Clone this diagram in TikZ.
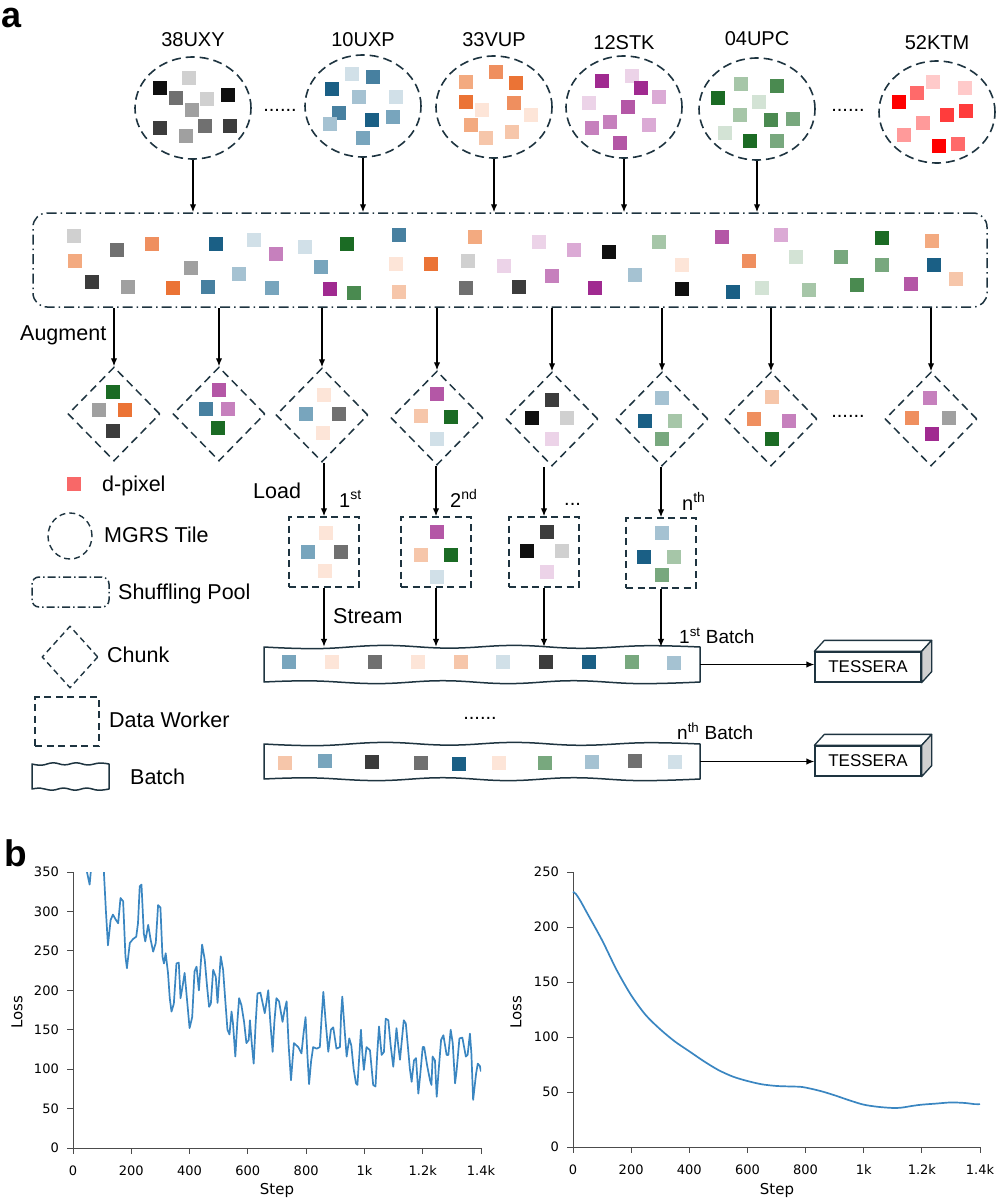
\documentclass[tikz,border=0pt]{standalone}
\usepackage{fontspec}
\setmainfont{Liberation Sans}
\newfontfamily\plotfont{DejaVu Sans}
\usetikzlibrary{shapes.geometric,arrows.meta}
\definecolor{lnc}{HTML}{1E3440}
\definecolor{ck1}{HTML}{0F0F0F}\definecolor{ck2}{HTML}{3C3C3C}\definecolor{ck3}{HTML}{707070}\definecolor{ck4}{HTML}{A0A0A0}\definecolor{ck5}{HTML}{D0D0D0}
\definecolor{cb1}{HTML}{1A5F85}\definecolor{cb2}{HTML}{4780A0}\definecolor{cb3}{HTML}{78A5BD}\definecolor{cb4}{HTML}{A5C2D2}\definecolor{cb5}{HTML}{D1E0E8}
\definecolor{co1}{HTML}{EB7335}\definecolor{co2}{HTML}{EF8F5F}\definecolor{co3}{HTML}{F3AA80}\definecolor{co4}{HTML}{F6C6AA}\definecolor{co5}{HTML}{FDE5D8}
\definecolor{cp1}{HTML}{A02A90}\definecolor{cp2}{HTML}{B457A6}\definecolor{cp3}{HTML}{C680BD}\definecolor{cp4}{HTML}{DBAAD5}\definecolor{cp5}{HTML}{ECD3E8}
\definecolor{cg1}{HTML}{1B6B24}\definecolor{cg2}{HTML}{4A8A50}\definecolor{cg3}{HTML}{78A87E}\definecolor{cg4}{HTML}{A6C6A8}\definecolor{cg5}{HTML}{D3E3D5}
\definecolor{cr1}{HTML}{FF0000}\definecolor{cr2}{HTML}{FF3C3C}\definecolor{cr3}{HTML}{FF6A6A}\definecolor{cr4}{HTML}{FF9A9A}\definecolor{cr5}{HTML}{FFCACA}
\definecolor{cleg}{HTML}{F86868}
\definecolor{pltc}{HTML}{3A86C1}
% wavy outline round a named node: node, half width, half height, amplitude
\newcommand{\wavyoutline}[4]{%
  \draw[lnc, line width=1.5pt, line join=round, shift={(#1.center)}]
    plot[smooth, tension=0.7] coordinates {(-#2,-#3) (-0.75*#2,-#3+#4) (-0.45*#2,-#3-#4) (-0.15*#2,-#3+0.7*#4) (0.15*#2,-#3-#4) (0.45*#2,-#3+0.8*#4) (0.75*#2,-#3-0.8*#4) (#2,-#3)}
    -- plot[smooth, tension=0.7] coordinates {(#2,#3) (0.72*#2,#3+#4) (0.42*#2,#3-0.8*#4) (0.12*#2,#3+#4) (-0.18*#2,#3-0.8*#4) (-0.48*#2,#3+#4) (-0.78*#2,#3-0.7*#4) (-#2,#3)}
    -- cycle;}
\begin{document}
\begin{tikzpicture}[x=1pt,y=-1pt,
  tile/.style={ellipse, draw=lnc, line width=1.6pt, dash pattern=on 9pt off 5pt, minimum width=116pt, minimum height=102pt, inner sep=0pt},
  chunk/.style={diamond, aspect=1, draw=lnc, line width=1.5pt, dash pattern=on 8pt off 5pt, minimum width=92pt, minimum height=94pt, inner sep=0pt},
  worker/.style={rectangle, draw=lnc, line width=1.5pt, dash pattern=on 7pt off 4.5pt, minimum width=70pt, minimum height=70pt, inner sep=0pt},
  batch/.style={rectangle, minimum width=436pt, minimum height=35pt, inner sep=0pt},
  pool/.style={rectangle, rounded corners=14pt, draw=lnc, line width=1.5pt, dash pattern=on 10pt off 4pt on 1.5pt off 4pt, minimum width=954pt, minimum height=94pt, inner sep=0pt},
  arr/.style={-{Latex[length=8pt,width=6.5pt]}, line width=1.3pt},
  tess/.style={rectangle, draw=lnc, line width=1.3pt, fill=white, minimum width=106pt, minimum height=30pt, inner sep=0pt, font=\fontsize{17}{20}\selectfont},
  lbl/.style={font=\fontsize{20}{24}\selectfont, inner sep=0pt},
  leg/.style={font=\fontsize{21.5}{26}\selectfont, inner sep=0pt, anchor=base west},
  tick/.style={font=\plotfont\fontsize{13}{15}\selectfont, inner sep=0pt},
  axl/.style={font=\plotfont\fontsize{15}{18}\selectfont, inner sep=0pt},
  axc/.style={draw=black!70, line width=1pt}
]
\useasboundingbox (0,0) rectangle (996,1199);

% panel letters
\node[anchor=base west, inner sep=0pt, font=\fontsize{36}{38}\selectfont\bfseries] (pa) at (1,28) {a};
\node[anchor=base west, inner sep=0pt, font=\fontsize{37}{38}\selectfont\bfseries] (pb) at (4,866) {b};

% tiles
\node[tile] (t1) at (193,108) {};
\node[tile] (t2) at (363,106) {};
\node[tile] (t3) at (494,107) {};
\node[tile] (t4) at (624,107) {};
\node[tile] (t5) at (757,109) {};
\node[tile] (t6) at (937,112) {};
\node[lbl, anchor=base] (l1) at (193,47) {38UXY};
\node[lbl, anchor=base] (l2) at (363,47) {10UXP};
\node[lbl, anchor=base] (l3) at (494,47) {33VUP};
\node[lbl, anchor=base] (l4) at (624,49) {12STK};
\node[lbl, anchor=base] (l5) at (757,46) {04UPC};
\node[lbl, anchor=base] (l6) at (937,50) {52KTM};
\node[lbl, anchor=base] (dots1) at (280,111) {......};
\node[lbl, anchor=base] (dots2) at (848,111) {......};

% pool
\node[pool] (pool) at (510,260) {};

% chunks
\node[chunk] (d1) at (114,414) {};
\node[chunk] (d2) at (219,414) {};
\node[chunk] (d3) at (322,415) {};
\node[chunk] (d4) at (437,418) {};
\node[chunk] (d5) at (552,419) {};
\node[chunk] (d6) at (662,419) {};
\node[chunk] (d7) at (771,419) {};
\node[chunk] (d8) at (931,419) {};
\node[lbl, anchor=base] (dots3) at (848,417) {......};
\node[leg] (aug) at (20,340) {Augment};

% workers
\node[worker] (w1) at (324,552) {};
\node[worker] (w2) at (436,552) {};
\node[worker] (w3) at (544,552) {};
\node[worker] (w4) at (661,553) {};
\node[leg] (load) at (253,498) {Load};
\node[lbl, anchor=base west] (n1) at (339,507) {1\textsuperscript{st}};
\node[lbl, anchor=base west] (n2) at (450,507) {2\textsuperscript{nd}};
\node[lbl, anchor=base west] (n3) at (564,505) {...};
\node[lbl, anchor=base west] (n4) at (682,510) {n\textsuperscript{th}};
\node[leg] (stream) at (333,623) {Stream};

% batches
\node[batch] (b1) at (482,664.5) {};
\node[batch] (b2) at (482,761.5) {};
\wavyoutline{b1}{218}{17.5}{1.6}
\wavyoutline{b2}{218}{17.5}{1.6}
\node[lbl, anchor=base west, font=\fontsize{19}{22}\selectfont] (bl1) at (679,643) {1\textsuperscript{st} Batch};
\node[lbl, anchor=base west, font=\fontsize{19}{22}\selectfont] (bl2) at (677,739) {n\textsuperscript{th} Batch};
\node[lbl, anchor=base] (dots4) at (480,719) {......};

% TESSERA boxes
\node[tess] (tes1) at (868,667) {TESSERA};
\node[tess] (tes2) at (868,761) {TESSERA};
\foreach \t in {tes1,tes2}{
  \draw[draw=lnc, line width=1.3pt, fill=white, line join=round] (\t.north west) -- ++(10,-11) -- ([shift={(10,-11)}]\t.north east) -- (\t.north east) -- cycle;
  \draw[draw=lnc, line width=1.3pt, fill=ck5, line join=round] (\t.north east) -- ++(10,-11) -- ([shift={(10,-11)}]\t.south east) -- (\t.south east) -- cycle;
}

% connectors
\foreach \t in {t1,t2,t3,t4,t5}
  \draw[arr] (\t.south) -- (\t.south |- pool.north);
\foreach \d in {d1,d2,d3,d4,d5,d6,d7,d8}
  \draw[arr] (pool.south -| \d.north) -- (\d.north);
\draw[arr] (w1.north |- d3.south) -- (w1.north);
\draw[arr] (w2.north |- d4.south) -- (w2.north);
\draw[arr] (w3.north |- d5.south) -- (w3.north);
\draw[arr] (w4.north |- d6.south) -- (w4.north);
\foreach \w in {w1,w2,w3,w4}
  \draw[arr] (\w.south) -- (\w.south |- b1.north);
\draw[arr] (b1.east) -- (tes1.west |- b1.east);
\draw[arr] (b2.east) -- (tes2.west |- b2.east);

% legend
\node[tile, minimum width=44pt, minimum height=46pt, line width=1.4pt, dash pattern=on 6pt off 4pt] (lgtile) at (70,536) {};
\node[pool, minimum width=77pt, minimum height=30pt, rounded corners=7pt, dash pattern=on 8pt off 3pt on 1.5pt off 3pt] (lgpool) at (70.5,592) {};
\node[chunk, minimum width=56pt, minimum height=62pt, dash pattern=on 6pt off 4pt, line width=1.4pt] (lgchunk) at (70,657) {};
\node[worker, minimum width=64pt, minimum height=49pt] (lgwork) at (67,721.5) {};
\node[batch, minimum width=77pt, minimum height=25pt] (lgbatch) at (70.5,776.5) {};
\wavyoutline{lgbatch}{38.5}{12.5}{1.2}
\node[leg] (tx1) at (102,491) {d-pixel};
\node[leg] (tx2) at (104,542) {MGRS Tile};
\node[leg] (tx3) at (118,599) {Shuffling Pool};
\node[leg] (tx4) at (107,662) {Chunk};
\node[leg] (tx5) at (109,727) {Data Worker};
\node[leg] (tx6) at (130,784) {Batch};

% d-pixels
\foreach \x/\y/\c in {
 74/484/cleg,
 160/88/ck1, 189/78/ck5, 176/98/ck3, 207/99/ck5, 192/110/ck4, 228/95/ck1, 160/128/ck2, 186/136/ck4, 205/126/ck3, 230/126/ck2,
 352/74/cb5, 373/77/cb2, 332/89/cb1, 359/97/cb4, 396/97/cb5, 339/113/cb2, 330/124/cb4, 372/120/cb1, 393/117/cb3, 363/138/cb3,
 466/82/co3, 496/72/co2, 466/102/co1, 482/110/co5, 471/125/co3, 486/138/co4, 516/83/co1, 514/103/co2, 531/115/co5, 512/132/co4,
 602/81/cp1, 632/76/cp5, 641/88/cp1, 659/97/cp4, 589/103/cp5, 628/107/cp2, 592/128/cp3, 610/122/cp3, 649/125/cp4, 620/143/cp2,
 718/98/cg1, 741/84/cg4, 777/86/cg2, 759/102/cg5, 740/115/cg4, 771/120/cg2, 793/119/cg3, 725/133/cg5, 750/141/cg1, 777/141/cg3,
 899/102/cr1, 917/93/cr3, 933/82/cr5, 965/88/cr5, 947/115/cr2, 966/111/cr2, 923/123/cr4, 904/135/cr4, 939/146/cr1, 958/144/cr3,
 74/236/ck5, 117/250/ck3, 152/244/co2, 75/261/co3, 92/282/ck2, 128/287/ck4, 173/288/co1, 191/268/ck4, 216/244/cb1, 208/287/cb2,
 254/240/cb5, 239/274/cb4, 276/254/cp3, 305/247/cb5, 321/267/cb3, 272/288/cb3, 347/244/cg1, 330/289/cp1, 354/293/cg2, 399/235/cb2,
 396/264/co5, 431/264/co1, 399/292/co4, 475/237/co3, 468/261/ck5, 466/288/ck3, 539/242/cp5, 504/266/cp5, 574/250/cp4, 609/252/ck1,
 519/287/ck2, 552/276/cp3, 595/288/cp1, 659/242/cg4, 635/275/cb4, 682/265/co5, 682/289/ck1, 722/237/cp2, 749/261/co2, 733/292/cb1,
 781/235/cp4, 796/257/cg5, 762/288/cg5, 809/290/cg4, 841/257/cg3, 857/285/cg2, 882/238/cg1, 882/265/cg3, 932/241/co3, 934/265/cb1,
 911/284/cp2, 956/279/co4,
 113/392/cg1, 99/410/ck4, 125/410/co1, 113/431/ck2,
 219/390/cp2, 206/409/cb2, 228/409/cp3, 218/428/cg1,
 324/395/co5, 306/414/cb3, 339/414/ck3, 323/433/co5,
 437/394/cp2, 421/416/co4, 451/417/cg1, 437/439/cb5,
 552/400/ck2, 532/418/ck1, 567/418/ck5, 552/439/cp5,
 662/398/cb4, 645/421/cb1, 675/421/cg4, 662/439/cg3,
 772/397/co4, 754/419/co2, 789/421/cp3, 772/439/cg1,
 930/398/cp3, 912/418/co2, 949/418/ck4, 932/434/cp1,
 326/533/co5, 308/552/cb3, 341/552/ck3, 325/571/co5,
 437/532/cp2, 421/555/co4, 451/555/cg1, 437/577/cb5,
 547/532/ck2, 527/551/ck1, 562/551/ck5, 547/572/cp5,
 662/533/cb4, 644/557/cb1, 674/557/cg4, 662/575/cg3,
 289/662/cb3, 332/662/co5, 375/662/ck3, 418/662/co5, 461/662/co4, 503/662/cb5, 546/662/ck2, 589/662/cb1, 632/662/cg3, 674/663/cb4,
 285/763/co4, 325/761/cb3, 372/762/ck2, 421/763/ck3, 459/764/cb1, 499/763/co5, 545/763/cg3, 592/762/cb4, 635/761/ck3, 675/762/cb5}
 \fill[\c] (\x-7,\y-7) rectangle ++(14,14);

% ---------- left plot ----------
\node[axl, rotate=90] (yl1) at (17,1012) {Loss};
\node[axl, anchor=base] (xl1) at (277,1194) {Step};
\begin{scope}[shift={(73pt,-1148pt)}, x=0.29143pt, y=0.78857pt]
  \draw[axc] (0,350) -- (0,0) -- (1400,0);
  \foreach \v in {0,50,...,350}{
    \draw[axc] (0,\v) -- ++(-6pt,0pt);
    \node[tick, anchor=east, xshift=-14pt] at (0,\v) {\v};
  }
  \foreach \s/\t in {0/0,200/200,400/400,600/600,800/800,1000/1k,1200/1.2k,1400/1.4k}{
    \draw[axc] (\s,0) -- ++(0pt,-6pt);
    \node[tick, anchor=base, yshift=-27pt] at (\s,0) {\t};
  }
  \begin{scope}
  \clip (0,0) rectangle (1400,350);
  \draw[pltc, line width=1.7pt, line join=round] plot coordinates {
  (40,380) (48,350) (57,334) (61,350) (66,380) (85,400) (100,380) (106,350) (113,300) (120,257) (129,289) (137,296) (146,290) (155,285) (163,317) (172,313) (180,243) (185,228) (195,260) (206,265) (217,268) (223,285) (229,332) (235,334) (243,272) (248,262) (258,283) (266,265) (275,249) (284,260) (292,308) (300,305) (307,243) (312,234) (318,247) (326,222) (332,190) (338,173) (346,183) (355,234) (363,235) (369,190) (376,205) (383,222) (392,185) (400,152) (409,166) (417,224) (424,230) (432,200) (443,258) (452,239) (460,205) (467,179) (473,183) (481,226) (490,217) (496,184) (507,243) (515,226) (522,190) (530,150) (537,144) (544,173) (549,158) (557,116) (564,160) (570,190) (578,181) (587,160) (595,133) (603,137) (607,162) (614,130) (620,107) (627,160) (633,196) (643,197) (650,185) (658,171) (664,185) (670,200) (677,160) (685,122) (691,160) (698,190) (707,186) (719,160) (726,175) (733,186) (740,130) (748,86) (758,133) (773,128) (784,120) (791,145) (798,166) (804,120) (810,81) (817,110) (824,128) (836,126) (847,128) (853,165) (859,198) (867,160) (876,122) (885,150) (893,153) (904,126) (916,128) (920,170) (924,192) (932,150) (939,116) (948,139) (955,130) (963,100) (971,82) (976,80) (983,120) (988,150) (993,120) (998,99) (1007,128) (1019,124) (1025,100) (1030,80) (1038,78) (1044,120) (1050,154) (1059,118) (1067,122) (1073,164) (1082,162) (1090,130) (1099,103) (1110,152) (1116,130) (1122,112) (1135,162) (1142,158) (1150,125) (1156,100) (1162,84) (1170,111) (1177,114) (1185,69) (1192,95) (1200,128) (1205,128) (1215,105) (1225,86) (1230,80) (1234,116) (1242,111) (1248,65) (1255,100) (1263,137) (1271,143) (1282,118) (1288,118) (1296,150) (1303,133) (1311,82) (1316,97) (1326,139) (1336,140) (1348,116) (1354,118) (1362,145) (1367,120) (1373,61) (1383,94) (1389,107) (1396,104) (1400,97)};
  \end{scope}
\end{scope}

% ---------- right plot ----------
\node[axl, rotate=90] (yl2) at (516,1012) {Loss};
\node[axl, anchor=base] (xl2) at (777,1194) {Step};
\begin{scope}[shift={(573pt,-1147pt)}, x=0.29071pt, y=1.1pt]
  \draw[axc] (0,250) -- (0,0) -- (1400,0);
  \foreach \v in {0,50,...,250}{
    \draw[axc] (0,\v) -- ++(-6pt,0pt);
    \node[tick, anchor=east, xshift=-14pt] at (0,\v) {\v};
  }
  \foreach \s/\t in {0/0,200/200,400/400,600/600,800/800,1000/1k,1200/1.2k,1400/1.4k}{
    \draw[axc] (\s,0) -- ++(0pt,-6pt);
    \node[tick, anchor=base, yshift=-27pt] at (\s,0) {\t};
  }
  \draw[pltc, line width=1.7pt, line join=round] plot[smooth] coordinates {
  (0,232) (10,230) (25,224) (50,212) (100,188) (150,161) (200,138) (250,120) (300,107) (350,96) (400,87) (450,78) (500,70) (550,64) (600,60) (650,57) (700,55.5) (750,55) (790,54.5) (850,51) (900,47) (950,42.5) (1000,38.5) (1050,36.5) (1100,35.5) (1130,35.8) (1170,37.5) (1200,38.5) (1250,39.5) (1300,40.5) (1350,40) (1380,39) (1400,39)};
\end{scope}
\end{tikzpicture}
\end{document}
